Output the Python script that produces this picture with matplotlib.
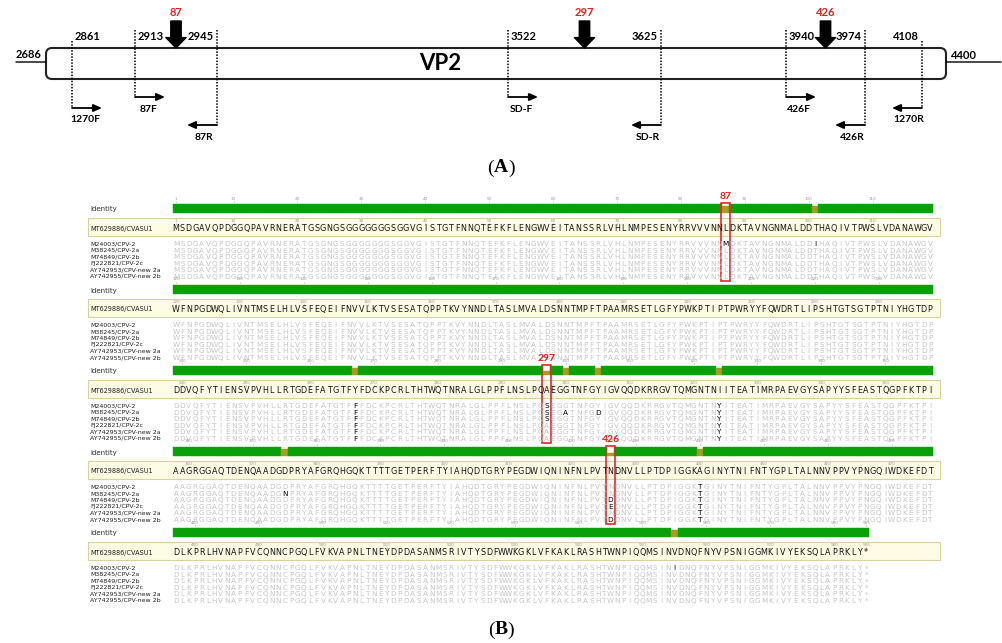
import numpy as np
import matplotlib
matplotlib.use("Agg")
import matplotlib.pyplot as plt
from matplotlib.patches import FancyBboxPatch, Rectangle
from matplotlib.transforms import blended_transform_factory, IdentityTransform

# ---------------- panel A: VP2 gene map ----------------
vp2_start = 2686
vp2_end = 4400
primer_names = ["1270F", "87F", "87R", "SD-F", "SD-R", "426F", "426R", "1270R"]
primer_pos = [2861, 2913, 2945, 3522, 3625, 3940, 3974, 4108]
primer_strand = ["F", "F", "R", "F", "R", "F", "R", "R"]
site_primers = [("87F", "87R"), ("SD-F", "SD-R"), ("426F", "426R")]
mut_sites = [87, 297, 426]

# map is not drawn to scale: nucleotide -> pixel anchors used by the x scale
map_nt = [2490, 2686, 2861, 2913, 2945, 3522, 3625, 3940, 3974, 4108, 4400, 4560]
map_px = [0, 46, 72, 135, 217, 508, 661, 786, 865, 922, 946, 1003]

# ---------------- panel B: VP2 alignment ----------------
ref_name = "MT629886/CVASU1"
ref_seq = ("MSDGAVQPDGGQPAVRNERATGSGNGSGGGGGGGSGGVGISTGTFNNQTEFKFLENGWVE"
           "ITANSSRLVHLNMPESENYRRVVVNNLDKTAVNGNMALDDTHAQIVTPWSLVDANAWGVW"
           "FNPGDWQLIVNTMSELHLVSFEQEIFNVVLKTVSESATQPPTKVYNNDLTASLMVALDSN"
           "NTMPFTPAAMRSETLGFYPWKPTIPTPWRYYFQWDRTLIPSHTGTSGTPTNIYHGTDPDD"
           "VQFYTIENSVPVHLLRTGDEFATGTFYFDCKPCRLTHTWQTNRALGLPPFLNSLPQAEGG"
           "TNFGYIGVQQDKRRGVTQMGNTNIITEATIMRPAEVGYSAPYYSFEASTQGPFKTPIAAG"
           "RGGAQTDENQAADGDPRYAFGRQHGQKTTTTGETPERFTYIAHQDTGRYPEGDWIQNINF"
           "NLPVTNDNVLLPTDPIGGKAGINYTNIFNTYGPLTALNNVPPVYPNGQIWDKEFDTDLKP"
           "RLHVNAPFVCQNNCPGQLFVKVAPNLTNEYDPDASANMSRIVTYSDFWWKGKLVFKAKLR"
           "ASHTWNPIQQMSINVDNQFNYVPSNIGGMKIVYEKSQLAPRKLY*")
strains = ["M24003/CPV-2", "M38245/CPV-2a", "M74849/CPV-2b",
           "FJ222821/CPV-2c", "AY742953/CPV-new 2a", "AY742955/CPV-new 2b"]
strain_subs = [
    {87: "M", 101: "I", 267: "F", 297: "S", 324: "Y", 440: "T", 555: "I"},
    {267: "F", 297: "S", 300: "A", 305: "D", 324: "Y", 375: "N", 440: "T"},
    {267: "F", 297: "S", 324: "Y", 426: "D", 440: "T"},
    {267: "F", 324: "Y", 426: "E", 440: "T"},
    {267: "F", 324: "Y", 440: "T"},
    {267: "F", 324: "Y", 426: "D", 440: "T"},
]
ruler_marks = [1] + list(range(10, 585, 10)) + [585]

W, H = 1003, 643
fig = plt.figure(figsize=(W / 100, H / 100), dpi=100)
axA = fig.add_axes([0, 0, 1, 1])
axB = fig.add_axes([0, 0, 1, 1])
axA.axis("off")
axB.axis("off")

fwd = lambda v: np.interp(v, map_nt, map_px)
inv = lambda v: np.interp(v, map_px, map_nt)
axA.set_xscale("function", functions=(fwd, inv))
axA.set_xlim(map_nt[0], map_nt[-1])
axA.set_ylim(H, 0)

pxA = blended_transform_factory(IdentityTransform(), axA.transData)
bold = dict(family="Lato", fontweight="bold")

# gene box
x_l, x_r = fwd(vp2_start), fwd(vp2_end)
axA.add_patch(FancyBboxPatch((x_l, 48), x_r - x_l, 31, boxstyle="round,pad=0,rounding_size=6",
                             transform=pxA, fill=False, ec="#222222", lw=1.5))
axA.text(440, 64, "VP2", transform=pxA, ha="center", va="center", fontsize=16, **bold)
arr_line = dict(arrowstyle="-", lw=1.0, color="black", shrinkA=0, shrinkB=0)
axA.annotate("", xy=(vp2_start, 62), xytext=(-21.6, 0), textcoords="offset points", arrowprops=arr_line)
axA.annotate("", xy=(vp2_end, 62), xytext=(39.6, 0), textcoords="offset points", arrowprops=arr_line)
axA.annotate(str(vp2_start), xy=(vp2_start, 60), xytext=(-3, 0), textcoords="offset points",
             ha="right", va="bottom", fontsize=8, **bold)
axA.annotate(str(vp2_end), xy=(vp2_end, 61), xytext=(3.5, 0), textcoords="offset points",
             ha="left", va="bottom", fontsize=8, **bold)

# primers
for name, pos, strand in zip(primer_names, primer_pos, primer_strand):
    outer = name.startswith("1270")
    ty = 108 if outer else (97 if strand == "F" else 125)
    top = 41 if outer else 30
    d = 1 if strand == "F" else -1
    axA.vlines(pos, top, ty, colors="black", linestyles=(0, (1, 1)), lw=1.1)
    axA.annotate("", xy=(pos, ty), xytext=(d * 21.6, 0), textcoords="offset points",
                 arrowprops=dict(arrowstyle="<|-,head_length=0.5,head_width=0.22", lw=1.3,
                                 color="black", shrinkA=0, shrinkB=0, mutation_scale=10))
    axA.annotate(name, xy=(pos, ty + 12), xytext=(d * 9.5, 0), textcoords="offset points",
                 ha="center", va="center", fontsize=7.5, **bold)
    axA.annotate(str(pos), xy=(pos, 36), xytext=(d * 2.2, 0), textcoords="offset points",
                 ha="left" if d > 0 else "right", va="center", fontsize=8, **bold)

# mutation sites
for site, (fp, rp) in zip(mut_sites, site_primers):
    a = primer_pos[primer_names.index(fp)]
    b = primer_pos[primer_names.index(rp)]
    xm = inv((fwd(a) + fwd(b)) / 2)
    axA.annotate("", xy=(xm, 48), xytext=(xm, 21),
                 arrowprops=dict(width=7.5, headwidth=14.5, headlength=7.5,
                                 facecolor="black", edgecolor="black", shrink=0))
    axA.text(xm, 13, str(site), ha="center", va="center", color="#e8201c", fontsize=8, **bold)

# panel letters
def panel_label(ax, tr, x, y, letter, half):
    ax.text(x, y, letter, transform=tr, ha="center", va="center", fontsize=14,
            family="Liberation Serif", fontweight="bold")
    ax.annotate("(", xy=(x, y), xycoords=tr, xytext=(-half, 0), textcoords="offset points",
                ha="right", va="center", fontsize=14, family="Liberation Serif")
    ax.annotate(")", xy=(x, y), xycoords=tr, xytext=(half, 0), textcoords="offset points",
                ha="left", va="center", fontsize=14, family="Liberation Serif")

panel_label(axA, pxA, 501, 168, "A", 5.0)
panel_label(axA, pxA, 501, 630, "B", 4.6)

# ---------------- alignment ----------------
step = 6.39
col0 = 176
line_len = 119
axB.set_xlim(-col0 / step, (W - col0) / step)
axB.set_ylim(H, 0)
pxB = blended_transform_factory(IdentityTransform(), axB.transData)

strain_seqs = []
for subs in strain_subs:
    s = list(ref_seq)
    for p, aa in subs.items():
        s[p - 1] = aa
    strain_seqs.append("".join(s))
all_seqs = [ref_seq] + strain_seqs
L = len(ref_seq)
n = len(all_seqs)
ident = np.zeros(L)
for i in range(L):
    col = [s[i] for s in all_seqs]
    same = sum(1 for a in range(n) for b in range(a + 1, n) if col[a] == col[b])
    ident[i] = same / (n * (n - 1) / 2)

green, olive = "#0aa00a", "#ab9a22"
row_y0 = 36
row_dy = 6.5
nblk = int(np.ceil(L / line_len))
aln_font = "DejaVu Sans"

for blk in range(nblk):
    yI = 208 + 81 * blk
    lo = blk * line_len
    hi = min(lo + line_len, L)
    cols = np.arange(hi - lo)
    fr = ident[lo:hi]
    colors = [green if f >= 1 else olive for f in fr]
    axB.bar(cols, -9 * fr, bottom=yI + 4.5, width=1.0, color=colors, edgecolor=colors, lw=0.3)
    axB.text(90, yI + 1.5, "Identity", transform=pxB, ha="left", va="center",
             fontsize=5.0, color="#333333", family=aln_font)
    axB.add_patch(Rectangle((88, yI + 9.5), 852, 18, transform=pxB,
                            fc="#fdfbe3", ec="#d9d2a0", lw=0.8))
    axB.text(90, yI + 20.5, ref_name, transform=pxB, ha="left", va="center",
             fontsize=4.7, color="#222222", family=aln_font)
    for r, nm in enumerate(strains):
        axB.text(90, yI + row_y0 + r * row_dy, nm, transform=pxB, ha="left", va="center",
                 fontsize=4.5, color="#222222", family=aln_font)
    # rulers
    for m in ruler_marks:
        if lo < m <= hi:
            c = m - 1 - lo
            for yy in (yI - 9.5, yI + 13.0):
                axB.text(c, yy, str(m), ha="center", va="center", fontsize=3.0,
                         color="#9a9a9a", family=aln_font)
                axB.vlines(c, yy + 2.3, yy + 3.8, colors="#9a9a9a", lw=0.5)
    # residues
    for c in cols:
        ch = ref_seq[lo + c]
        axB.text(c, yI + 20.8, ch, ha="center", va="center", fontsize=5.8,
                 color="#151515", family=aln_font)
        for r, s in enumerate(strain_seqs):
            sc = s[lo + c]
            var = sc != ch
            axB.text(c, yI + row_y0 + 0.3 + r * row_dy, sc, ha="center", va="center",
                     fontsize=5.2, color="black" if var else "#c6c6c6", family=aln_font)

# highlighted sites
for site in mut_sites:
    blk = (site - 1) // line_len
    c = (site - 1) % line_len
    yI = 208 + 81 * blk
    y_top = yI - 5.5
    y_bot = yI + row_y0 + (len(strains) - 1) * row_dy + 4.5
    axB.add_patch(Rectangle((c - 0.65, y_top), 1.3, y_bot - y_top, fill=False,
                            ec="#e02a2a", lw=1.2))
    axB.text(c, yI - 11.5, str(site), ha="center", va="center", color="#e8201c",
             fontsize=7.5, **bold)

fig.savefig("out.png", dpi=100, facecolor="white")
